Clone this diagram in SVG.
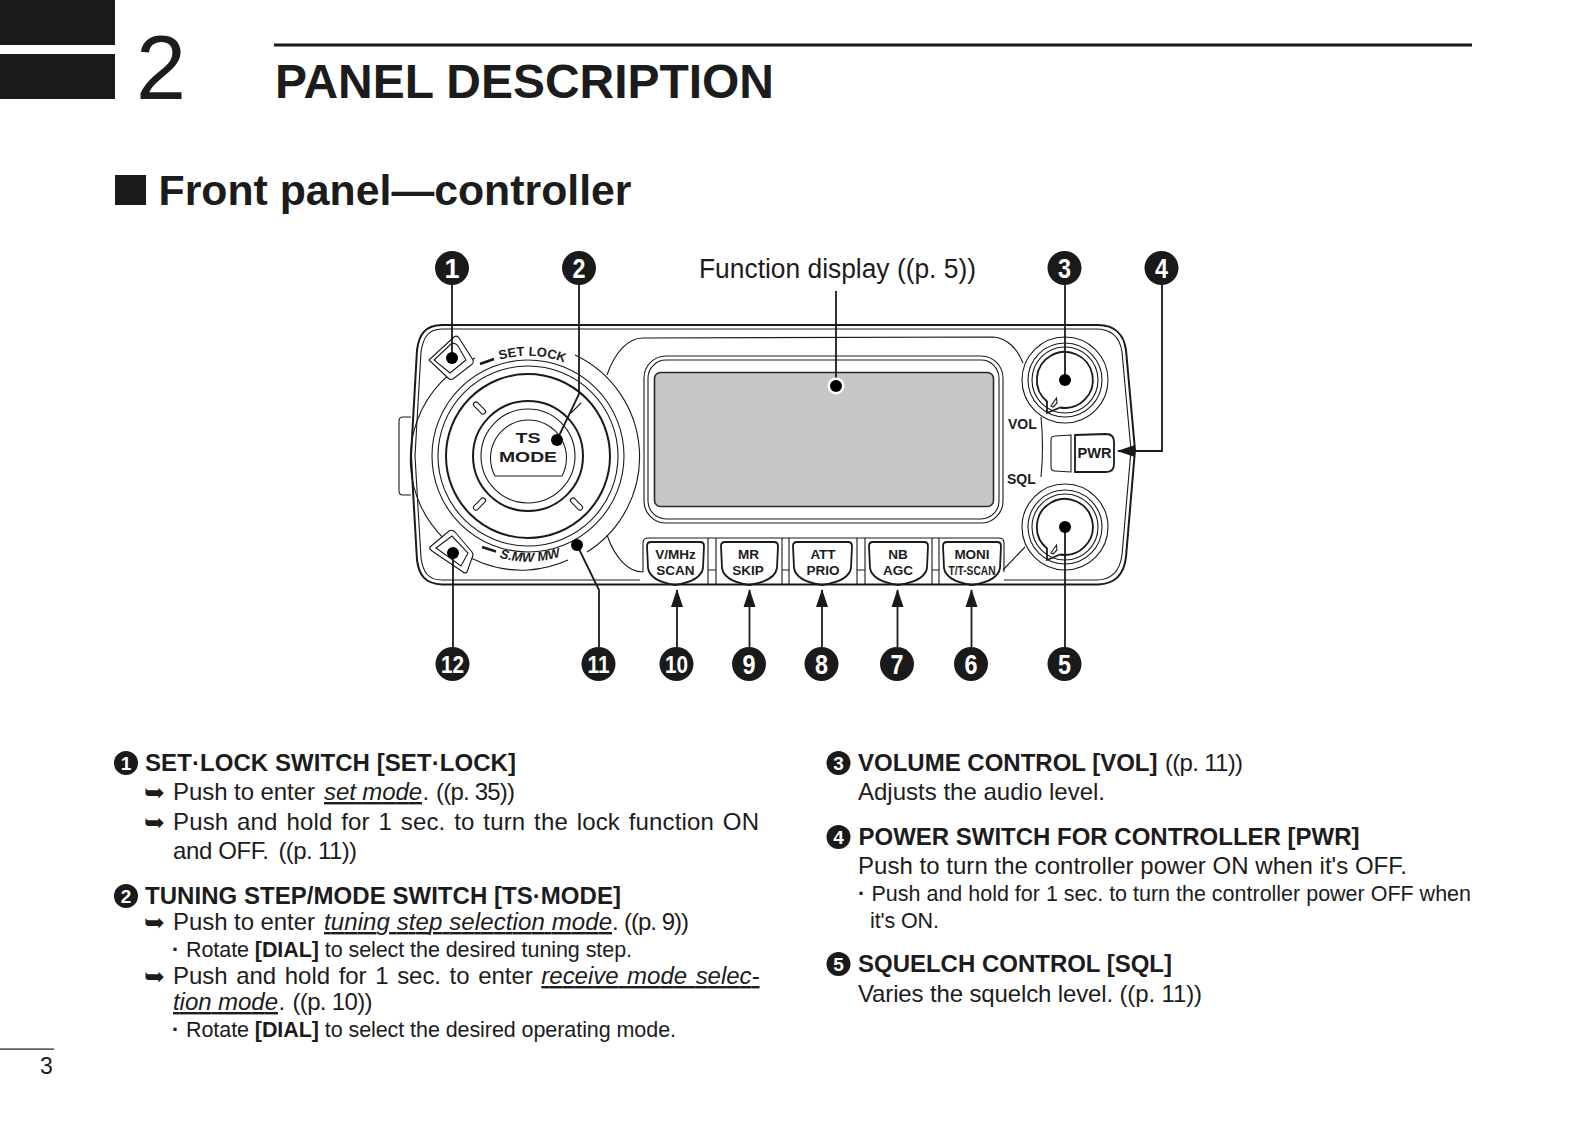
<svg xmlns="http://www.w3.org/2000/svg" width="1592" height="1122" viewBox="0 0 1592 1122">
<style>
text{font-family:"Liberation Sans",Arial,sans-serif;fill:#1c1c1c}
.h{font-weight:700;font-size:24px}
.b{font-size:24px}
.s{font-size:21.5px}
.i{font-style:italic;text-decoration:underline}
.bold{font-weight:700}
.ar{font-family:"DejaVu Sans",sans-serif;font-size:25px}
.bg{fill:#1a1a1a}
.d{fill:#fff;font-weight:700;text-anchor:middle}
.d1{font-size:27px}
.d0{font-size:24px}
.d2{font-size:19px}
.l{fill:none;stroke:#1a1a1a;stroke-width:1.1}
.w{fill:#fff;stroke:#1a1a1a;stroke-width:1.1}
.t{fill:none;stroke:#1a1a1a;stroke-width:2}
.c{fill:none;stroke:#1a1a1a;stroke-width:1.8}
.dot{fill:#000}
.k{font-weight:700;font-size:13.5px;text-anchor:middle}
.p{font-weight:700;font-size:14px;text-anchor:middle}
</style>
<defs>
<marker id="ah" markerUnits="userSpaceOnUse" markerWidth="18" markerHeight="14" refX="17" refY="7" orient="auto"><path d="M0 1L18 7L0 13Z" fill="#1a1a1a"/></marker>
</defs>
<g id="header">
<rect x="0" y="0" width="115" height="45" fill="#1a1a1a"/>
<rect x="0" y="54" width="115" height="45" fill="#1a1a1a"/>
<text x="136" y="98.500" font-size="90">2</text>
<rect x="274" y="43.500" width="1198" height="3" fill="#1a1a1a"/>
<text x="275" y="97.500" font-size="48" font-weight="700" textLength="499" lengthAdjust="spacingAndGlyphs">PANEL DESCRIPTION</text>
<rect x="115" y="175" width="31" height="30" fill="#1a1a1a"/>
<text x="158.500" y="205" font-size="42" font-weight="700" textLength="473" lengthAdjust="spacingAndGlyphs">Front panel—controller</text>
</g>
<g id="panel">
<path class="l" d="M411 417L403 417Q399 417 399 421L399 491Q399 495 403 495L411 495"/>
<path class="t" d="M442 325L1098 325C1115 325 1124 335 1126 350L1135 450L1126 557C1124 575 1115 584 1098 584.500L442 584.500C425 584 419 575 417 560L411 456L417 350C419 335 425 325 442 325Z" fill="#fff"/>
<path class="l" d="M442 329L1096 329C1112 329 1120 338 1122 352L1131 450L1122 555C1120 570 1112 580 1096 580L1004 580M640 580L442 580C428 580 423 572 421 558L415 456L421 352C423 338 428 329 442 329"/>
</g>
<g id="display">
<path class="l" d="M607 375C615 352 628 338 643 338L993 337C1008 338 1018 350 1023 363M607 535C615 558 628 572 643 572M1003 570L1025 547M1041 417C1043 437 1043 457 1041 477"/>
<rect class="l" x="644" y="356" width="359" height="167" rx="22"/>
<rect class="l" x="648" y="360" width="351" height="159" rx="18"/>
<rect x="654.500" y="372.500" width="339" height="134" rx="6" fill="#c6c6c6" stroke="#2a2a2a" stroke-width="1.600"/>
</g>
<g id="dial">
<circle class="l" cx="528" cy="456" r="96"/>
<circle class="l" cx="528" cy="456" r="90"/>
<circle class="t" cx="528" cy="456" r="82"/>
<path class="l" d="M575 355A112.500 112.500 0 0 1 587 552M568 560A111 111 0 0 1 475 358"/>
<circle class="t" cx="528" cy="456" r="55"/>
<circle class="l" cx="528" cy="456" r="47"/>
<path class="l" d="M495 476A38 38 0 1 1 562 476Z"/>
<rect class="l" x="472" y="405.500" width="15" height="5" rx="2.500" transform="rotate(45 479.500 408)"/>
<rect class="l" x="472" y="501.500" width="15" height="5" rx="2.500" transform="rotate(-45 479.500 504)"/>
<rect class="l" x="569" y="501.500" width="15" height="5" rx="2.500" transform="rotate(45 576.500 504)"/>
<path class="l" d="M571 413L581 403"/>
<text x="528" y="443" font-weight="700" font-size="15.500" text-anchor="middle" textLength="25" lengthAdjust="spacingAndGlyphs">TS</text>
<text x="528" y="462" font-weight="700" font-size="15.500" text-anchor="middle" textLength="58" lengthAdjust="spacingAndGlyphs">MODE</text>
<path id="arcTop" fill="none" d="M484 366A100 100 0 0 1 572 366"/>
<path id="arcBot" fill="none" d="M486 553A106 106 0 0 0 570 553"/>
<text font-size="13" font-weight="700"><textPath href="#arcTop" startOffset="17">SET LOCK</textPath></text>
<text font-size="13" font-weight="700" font-style="italic"><textPath href="#arcBot" startOffset="14">S.MW MW</textPath></text>
<path d="M480 364L494 359M482 547L496 551.500" stroke="#1a1a1a" stroke-width="2.500" fill="none"/>
</g>
<g id="set-lock-switch">
<path class="w" d="M429 360L454 337Q457 335 459 338L473 360Q474 363 471 365L453 379Q450 380 448 378Z"/>
<path class="l" d="M434 360L451 344Q455 342 458 346L466 360L450 373Z"/>
</g>
<g id="mw-switch">
<path class="w" d="M430 547L449 531Q452 529 455 532L472 552Q474 555 472 558L467 572Q465 574 463 572L432 551Q429 549 430 547Z"/>
<path class="l" d="M436 548L452 536L468 553L461 566Z"/>
</g>
<g id="volume-knob">
<circle class="l" cx="1065" cy="380" r="43"/>
<circle class="l" cx="1065" cy="380" r="37"/>
<circle class="l" cx="1065" cy="380" r="33"/>
<path class="c" d="M1060 407.500A28 28 0 1 0 1047 401.500L1047 413L1060 407.500"/>
<path class="l" d="M1051 406L1056.500 398L1057 403L1053 407Z"/>
</g>
<g id="squelch-knob">
<circle class="l" cx="1065" cy="527" r="43"/>
<circle class="l" cx="1065" cy="527" r="37"/>
<circle class="l" cx="1065" cy="527" r="33"/>
<path class="c" d="M1060 554.500A28 28 0 1 0 1047 548.500L1047 560L1060 554.500"/>
<path class="l" d="M1051 553L1056.500 545L1057 550L1053 554Z"/>
</g>
<g id="vol-sql-labels">
<text x="1008" y="429" font-size="14" font-weight="700">VOL</text>
<text x="1007" y="484" font-size="14" font-weight="700">SQL</text>
</g>
<g id="power-switch">
<path class="l" d="M1071 435L1055 436Q1051 436 1051 440L1051 467Q1051 471 1055 471L1071 472Z"/>
<path class="c" d="M1075 435L1106 434Q1114 434 1114 442L1114 464Q1114 472 1106 472L1075 472Z" fill="#fff"/>
<text class="p" x="1094.500" y="458" textLength="34" lengthAdjust="spacingAndGlyphs">PWR</text>
</g>
<g id="button-tray">
<path class="l" d="M643 572L643 543Q643 538 648 538L999 538Q1004 538 1004 543L1004 572"/>
<path class="l" d="M708 538L708 584M716 538L716 584M708 570L716 570M782 538L782 584M789 538L789 584M782 570L789 570M857 538L857 584M865 538L865 584M857 570L865 570M932 538L932 584M939 538L939 584M932 570L939 570"/>
</g>
<g id="btn-scan"><path class="c" fill="#fff" d="M651 542L700 542Q704 542 704 546L703 568Q701 581 675 585Q650 581 648 568L647 546Q647 542 651 542Z"/><text class="k" x="675.500" y="559">V/MHz</text><text class="k" x="675.500" y="575">SCAN</text></g>
<g id="btn-skip"><path class="c" fill="#fff" d="M725 542L774 542Q778 542 778 546L777 568Q775 581 749 585Q724 581 722 568L721 546Q721 542 725 542Z"/><text class="k" x="748.500" y="559">MR</text><text class="k" x="748" y="575">SKIP</text></g>
<g id="btn-prio"><path class="c" fill="#fff" d="M797 542L848 542Q852 542 852 546L851 568Q849 581 822 585Q796 581 794 568L793 546Q793 542 797 542Z"/><text class="k" x="823" y="559">ATT</text><text class="k" x="823" y="575">PRIO</text></g>
<g id="btn-agc"><path class="c" fill="#fff" d="M873 542L924 542Q928 542 928 546L927 568Q925 581 898 585Q872 581 870 568L869 546Q869 542 873 542Z"/><text class="k" x="898" y="559">NB</text><text class="k" x="898" y="575">AGC</text></g>
<g id="btn-tscan"><path class="c" fill="#fff" d="M947 542L997 542Q1001 542 1001 546L1000 568Q998 581 972 585Q946 581 944 568L943 546Q943 542 947 542Z"/><text class="k" x="972" y="559">MONI</text><text class="k" x="972" y="575" textLength="47" lengthAdjust="spacingAndGlyphs">T/T-SCAN</text></g>
<g id="connectors">
<path class="c" d="M452 285L452 358"/>
<path class="c" d="M579 285L579 394L557 440"/>
<path class="c" d="M836 291L836 386"/>
<path class="c" d="M1065 285L1065 380"/>
<path class="c" d="M1162 285L1162 451L1118 451" marker-end="url(#ah)"/>
<path class="c" d="M1065 527L1065 647"/>
<path class="c" d="M971.500 647L971.500 590" marker-end="url(#ah)"/>
<path class="c" d="M897.500 647L897.500 590" marker-end="url(#ah)"/>
<path class="c" d="M822 647L822 590" marker-end="url(#ah)"/>
<path class="c" d="M749.500 647L749.500 590" marker-end="url(#ah)"/>
<path class="c" d="M677 647L677 590" marker-end="url(#ah)"/>
<path class="c" d="M577 545L599 590L599 647"/>
<path class="c" d="M453 553L453 647"/>
<circle class="dot" cx="452" cy="358" r="6"/>
<circle class="dot" cx="557" cy="440" r="6"/>
<circle cx="836" cy="386" r="8.500" fill="#fff"/><circle class="dot" cx="836" cy="386" r="6"/>
<circle class="dot" cx="1065" cy="380" r="6"/>
<circle class="dot" cx="1065" cy="527" r="6"/>
<circle class="dot" cx="577" cy="545" r="6"/>
<circle class="dot" cx="453" cy="553" r="6"/>
</g>
<g id="label-display"><text x="699" y="278" font-size="27" textLength="277" lengthAdjust="spacingAndGlyphs">Function display ((p. 5))</text></g>
<g id="n1"><circle class="bg" cx="452" cy="268" r="17"/><text class="d d1" x="452" y="278">1</text></g>
<g id="n2"><circle class="bg" cx="579" cy="268" r="17"/><text class="d d1" x="579" y="278" textLength="13" lengthAdjust="spacingAndGlyphs">2</text></g>
<g id="n3"><circle class="bg" cx="1064.500" cy="268" r="17"/><text class="d d1" x="1064.500" y="278" textLength="13" lengthAdjust="spacingAndGlyphs">3</text></g>
<g id="n4"><circle class="bg" cx="1161.500" cy="268" r="17"/><text class="d d1" x="1161.500" y="278" textLength="13" lengthAdjust="spacingAndGlyphs">4</text></g>
<g id="n5"><circle class="bg" cx="1064.500" cy="664" r="17"/><text class="d d1" x="1064.500" y="674" textLength="13" lengthAdjust="spacingAndGlyphs">5</text></g>
<g id="n6"><circle class="bg" cx="971" cy="664" r="17"/><text class="d d1" x="971" y="674" textLength="13" lengthAdjust="spacingAndGlyphs">6</text></g>
<g id="n7"><circle class="bg" cx="897" cy="664" r="17"/><text class="d d1" x="897" y="674" textLength="13" lengthAdjust="spacingAndGlyphs">7</text></g>
<g id="n8"><circle class="bg" cx="821.500" cy="664" r="17"/><text class="d d1" x="821.500" y="674" textLength="13" lengthAdjust="spacingAndGlyphs">8</text></g>
<g id="n9"><circle class="bg" cx="749" cy="664" r="17"/><text class="d d1" x="749" y="674" textLength="13" lengthAdjust="spacingAndGlyphs">9</text></g>
<g id="n10"><circle class="bg" cx="676.500" cy="664" r="17"/><text class="d d0" x="676.500" y="673" textLength="23" lengthAdjust="spacingAndGlyphs">10</text></g>
<g id="n11"><circle class="bg" cx="598.500" cy="664" r="17"/><text class="d d0" x="598.500" y="673" textLength="22" lengthAdjust="spacingAndGlyphs">11</text></g>
<g id="n12"><circle class="bg" cx="452.500" cy="664" r="17"/><text class="d d0" x="452.500" y="673" textLength="23" lengthAdjust="spacingAndGlyphs">12</text></g>
<g id="left-column">
<circle class="bg" cx="126" cy="763" r="12"/><text class="d d2" x="126" y="770">1</text>
<text class="h" x="145" y="771" textLength="371">SET·LOCK SWITCH [SET·LOCK]</text>
<text class="ar" x="144" y="801">➥</text>
<text class="b" x="173" y="800" textLength="142">Push to enter</text>
<text class="b i" x="324" y="800" textLength="98">set mode</text>
<text class="b" x="422.500" y="800">.</text>
<text class="b" x="436" y="800" textLength="79">((p. 35))</text>
<text class="ar" x="144" y="831">➥</text>
<text class="b" x="173" y="830" textLength="586" word-spacing="2">Push and hold for 1 sec. to turn the lock function ON</text>
<text class="b" x="173" y="859" textLength="96">and OFF.</text>
<text class="b" x="278.500" y="859" textLength="78.500">((p. 11))</text>
<circle class="bg" cx="126" cy="896" r="12"/><text class="d d2" x="126" y="903">2</text>
<text class="h" x="145" y="904" textLength="476">TUNING STEP/MODE SWITCH [TS·MODE]</text>
<text class="ar" x="144" y="931">➥</text>
<text class="b" x="173" y="930" textLength="142">Push to enter</text>
<text class="b i" x="324" y="930" textLength="288">tuning step selection mode</text>
<text class="b" x="612" y="930">.</text>
<text class="b" x="624" y="930" textLength="65">((p. 9))</text>
<text class="s bold" x="172" y="957">·</text>
<text class="s" x="186" y="957" textLength="446">Rotate <tspan class="bold">[DIAL]</tspan> to select the desired tuning step.</text>
<text class="ar" x="144" y="985">➥</text>
<text class="b" x="173" y="984" textLength="586.500" word-spacing="2">Push and hold for 1 sec. to enter <tspan class="i">receive mode selec-</tspan></text>
<text class="b i" x="173" y="1010" textLength="105">tion mode</text>
<text class="b" x="278.500" y="1010">.</text>
<text class="b" x="292.500" y="1010" textLength="80">((p. 10))</text>
<text class="s bold" x="172" y="1037">·</text>
<text class="s" x="186" y="1037" textLength="490">Rotate <tspan class="bold">[DIAL]</tspan> to select the desired operating mode.</text>
</g>
<g id="right-column">
<circle class="bg" cx="838.500" cy="763" r="12"/><text class="d d2" x="838.500" y="770">3</text>
<text class="h" x="858" y="771" textLength="299.500">VOLUME CONTROL [VOL]</text>
<text class="b" x="1165" y="771" textLength="78">((p. 11))</text>
<text class="b" x="858" y="800" textLength="247">Adjusts the audio level.</text>
<circle class="bg" cx="838.500" cy="837" r="12"/><text class="d d2" x="838.500" y="844">4</text>
<text class="h" x="858.500" y="845" textLength="501">POWER SWITCH FOR CONTROLLER [PWR]</text>
<text class="b" x="858" y="874" textLength="549">Push to turn the controller power ON when it's OFF.</text>
<text class="s bold" x="858" y="901">·</text>
<text class="s" x="871.500" y="901" textLength="599.500">Push and hold for 1 sec. to turn the controller power OFF when</text>
<text class="s" x="870" y="928" textLength="69">it's ON.</text>
<circle class="bg" cx="838.500" cy="964" r="12"/><text class="d d2" x="838.500" y="971">5</text>
<text class="h" x="858" y="972" textLength="314">SQUELCH CONTROL [SQL]</text>
<text class="b" x="858" y="1002" textLength="344">Varies the squelch level. ((p. 11))</text>
</g>
<g id="page-number">
<rect x="0" y="1048.500" width="54" height="1.200" fill="#1a1a1a"/>
<text x="40" y="1074" font-size="23">3</text>
</g>
</svg>
